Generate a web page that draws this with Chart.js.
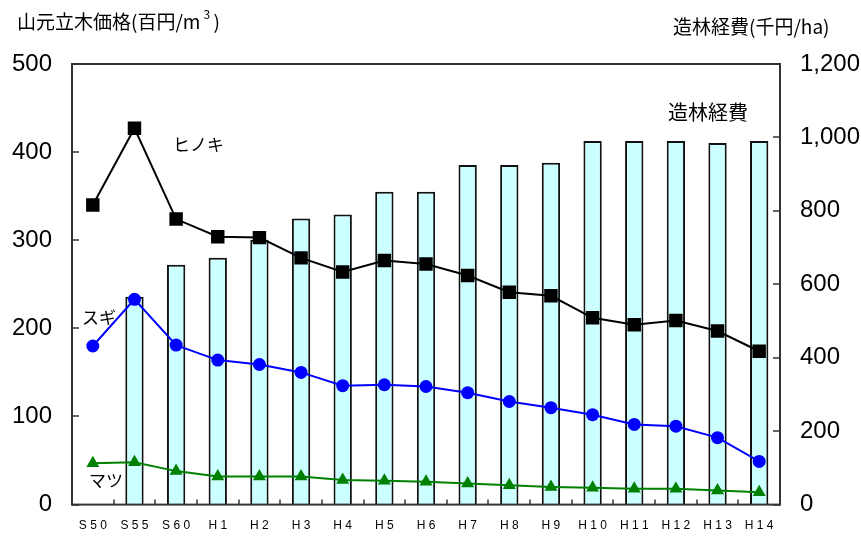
<!DOCTYPE html>
<html><head><meta charset="utf-8">
<script src="https://cdn.jsdelivr.net/npm/chart.js@4/dist/chart.umd.min.js"></script>
<style>html,body{margin:0;padding:0;background:#fff}#wrap{width:861px;height:539px;position:relative}</style>
</head><body><div id="wrap"><canvas id="c" width="861" height="539"></canvas></div>
<script>
const categories = ['S50','S55','S60','H1','H2','H3','H4','H5','H6','H7','H8','H9','H10','H11','H12','H13','H14'];
const hinoki = [340,427,324,304,303,280,264,277,273,260,241,237,212,204,209,197,174];
const sugi   = [180,233,181,164,159,150,135,136,134,127,117,110,102,91,89,76,49];
const matsu  = [47,48,38,32,32,32,28,27,26,24,22,20,19,18,18,16,14];
const zorinCost = [null,566,653,672,721,779,790,852,852,925,925,931,990,990,990,985,990];
const leftTicks = [0,100,200,300,400,500];
const rightTicks = [0,200,400,600,800,1000,1200];

const JP = '"Noto Sans CJK JP", sans-serif';
const LAT = '"Liberation Sans", Arial, sans-serif';

const deco = {
  id: 'deco',
  afterDraw(chart) {
    const ctx = chart.ctx, a = chart.chartArea;
    const x = chart.scales.x, yl = chart.scales.y, yr = chart.scales.y1;
    ctx.save();
    ctx.strokeStyle = '#333';
    ctx.lineWidth = 2;
    ctx.strokeRect(a.left, a.top, a.right - a.left, a.bottom - a.top);
    ctx.lineWidth = 1.5;
    ctx.beginPath();
    leftTicks.forEach(v => { const p = Math.round(yl.getPixelForValue(v)); ctx.moveTo(a.left, p); ctx.lineTo(a.left + 7, p); });
    rightTicks.forEach(v => { const p = Math.round(yr.getPixelForValue(v)); ctx.moveTo(a.right - 7, p); ctx.lineTo(a.right, p); });
    for (let i = 0; i < categories.length - 1; i++) {
      const p = Math.round((x.getPixelForValue(i) + x.getPixelForValue(i + 1)) / 2);
      ctx.moveTo(p, a.bottom); ctx.lineTo(p, a.bottom - 5);
    }
    ctx.stroke();
    ctx.fillStyle = '#000';
    ctx.textBaseline = 'middle';
    ctx.textAlign = 'left';
    ctx.font = '19px ' + JP;
    ctx.fillText('山元立木価格(百円/m', 17, 22);
    const w = ctx.measureText('山元立木価格(百円/m').width;
    ctx.font = '12px ' + JP;
    ctx.fillText('3', 17 + w + 3, 14);
    ctx.font = '19px ' + JP;
    ctx.fillText(')', 17 + w + 13, 22);
    ctx.fillText('造林経費(千円/ha)', 673, 27);
    ctx.font = '17px ' + JP;
    ctx.fillText('ヒノキ', 173, 145);
    ctx.fillText('スギ', 82, 318);
    ctx.fillText('マツ', 89, 481);
    ctx.font = '20px ' + JP;
    ctx.fillText('造林経費', 668, 112);
    ctx.restore();
  }
};

new Chart(document.getElementById('c'), {
  data: {
    labels: categories,
    datasets: [
      { type: 'line', label: 'ヒノキ', data: hinoki, yAxisID: 'y', order: 1,
        borderColor: '#000', backgroundColor: '#000', borderWidth: 2,
        pointStyle: 'rect', pointRadius: 9.5, pointBorderWidth: 0, tension: 0 },
      { type: 'line', label: 'スギ', data: sugi, yAxisID: 'y', order: 1,
        borderColor: '#0000ff', backgroundColor: '#0000ff', borderWidth: 2,
        pointStyle: 'circle', pointRadius: 6.5, pointBorderWidth: 0, tension: 0 },
      { type: 'line', label: 'マツ', data: matsu, yAxisID: 'y', order: 1,
        borderColor: '#008000', backgroundColor: '#008000', borderWidth: 2,
        pointStyle: 'triangle', pointRadius: 7.5, pointBorderWidth: 0, tension: 0 },
      { type: 'bar', label: '造林経費', data: zorinCost, yAxisID: 'y1', order: 2,
        backgroundColor: '#ccffff', borderColor: '#111', borderWidth: 2,
        categoryPercentage: 1, barPercentage: 0.44 }
    ]
  },
  options: {
    responsive: false, animation: false, devicePixelRatio: 1,
    layout: { padding: { top: 64, left: 0, right: 0, bottom: 0 } },
    plugins: { legend: { display: false }, tooltip: { enabled: false } },
    scales: {
      x: {
        offset: true,
        grid: { display: false, drawTicks: false },
        border: { display: false },
        ticks: { color: '#000', font: { family: LAT, size: 12 }, padding: 14, maxRotation: 0, autoSkip: false,
                 callback: function (v) { return this.getLabelForValue(v).split('').join(' '); } },
        afterFit: s => { s.height = 34; }
      },
      y: {
        position: 'left', min: 0, max: 500,
        grid: { display: false, drawTicks: false },
        border: { display: false },
        ticks: { stepSize: 100, color: '#000', font: { family: LAT, size: 24 }, padding: 20 },
        afterFit: s => { s.width = 72; }
      },
      y1: {
        position: 'right', min: 0, max: 1200,
        grid: { display: false, drawTicks: false },
        border: { display: false },
        ticks: { stepSize: 200, color: '#000', font: { family: LAT, size: 24 }, padding: 20,
                 callback: v => v.toLocaleString('en-US') },
        afterFit: s => { s.width = 81; }
      }
    }
  },
  plugins: [deco]
});
</script>
</body></html>
